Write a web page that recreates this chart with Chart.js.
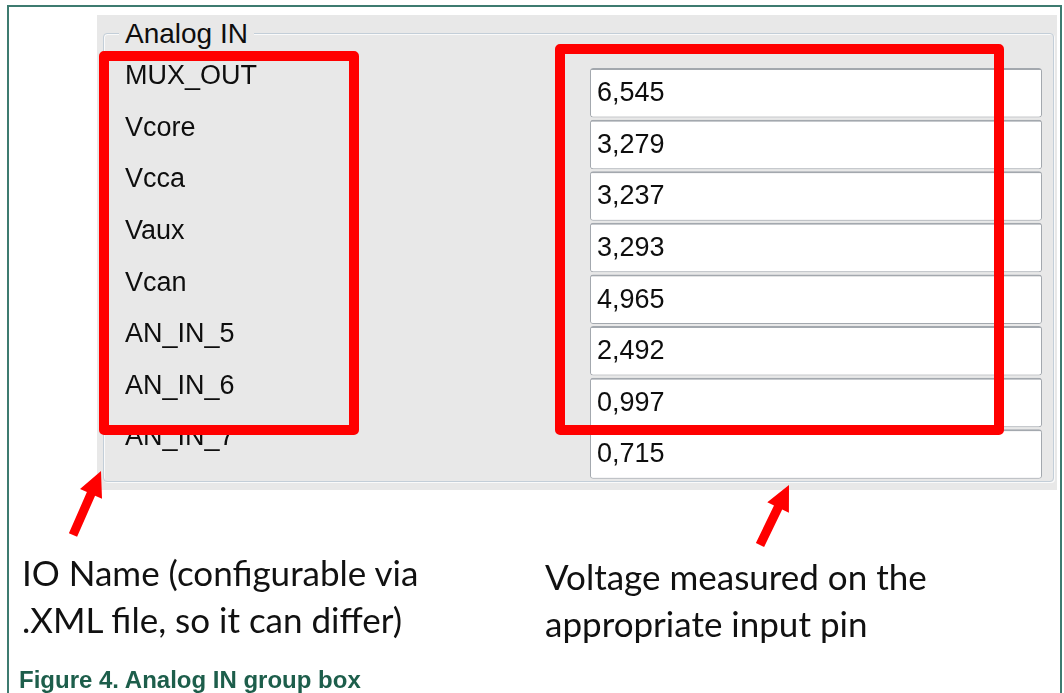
<!DOCTYPE html>
<html>
<head>
<meta charset="utf-8">
<script src="https://cdn.jsdelivr.net/npm/chart.js@4.4.1/dist/chart.umd.min.js"></script>
<style>
  html, body { margin: 0; padding: 0; background: #fff; }
  body { width: 1064px; height: 693px; position: relative; overflow: hidden; font-family: "Liberation Sans", Arial, sans-serif; }
  .frame { position: absolute; left: 7px; top: 5px; width: 1051px; height: 720px; border: 2px solid #3d7b70; }
  .shot  { position: absolute; left: 97px; top: 15px; width: 960px; height: 475px; background: #e8e8e8; }
  .group { position: absolute; left: 103px; top: 33px; width: 949px; height: 447px; border: 1px solid #c3ced8; border-radius: 4px;
           box-shadow: inset 1px 1px 0 #fafafa, 1px 1px 0 #fafafa; }
  .legend { position: absolute; left: 119px; top: 17px; padding: 0 6px; background: #e8e8e8; font-size: 28px; line-height: 34px; color: #0e0e0e; }
  .plot  { position: absolute; left: 103px; top: 40px; width: 950px; height: 459px; }
  .red   { position: absolute; box-sizing: border-box; border: 10px solid #ff0000; border-radius: 5px; }
  .note  { position: absolute; font-family: Lato, "Open Sans", sans-serif; font-size: 35px; line-height: 47px; color: #111; white-space: nowrap; }
  .caption { position: absolute; left: 19px; top: 666px; font-family: "Liberation Sans", Arial, sans-serif; font-weight: bold; font-size: 24px; color: #1d5e4b; }
  svg { position: absolute; left: 0; top: 0; }
</style>
</head>
<body>
<div class="frame"></div>
<div class="shot"></div>
<div class="group"></div>
<div class="legend">Analog IN</div>
<div class="plot"><canvas id="analogChart" width="950" height="459"></canvas></div>

<div class="red" style="left:99px; top:51px; width:260px; height:384px;"></div>
<div class="red" style="left:555px; top:44px; width:449px; height:391px;"></div>

<svg width="1064" height="693">
  <polygon fill="#ff0000" points="68.9,533.2 86.9,492.1 80,489.1 101,471 102,498.7 95.1,495.7 77.1,536.8"/>
  <polygon fill="#ff0000" points="755.9,543 774,505.5 767.3,502.3 789,485 788.9,512.7 782.2,509.5 764.1,547"/>
</svg>

<div class="note" style="left:22px; top:549px;">IO Name (configurable via<br>.XML file, so it can differ)</div>
<div class="note" style="left:545px; top:553px;">Voltage measured on the<br>appropriate input pin</div>
<div class="caption">Figure 4. Analog IN group box</div>

<script>
/* Analog IN group box — IO names on the category axis, read-out fields as bars */

const IO_NAMES   = ['MUX_OUT', 'Vcore', 'Vcca', 'Vaux', 'Vcan', 'AN_IN_5', 'AN_IN_6', 'AN_IN_7'];
const VOLTAGES   = [6.545, 3.279, 3.237, 3.293, 4.965, 2.492, 0.997, 0.715];
const FIELD_FILL = [1, 1, 1, 1, 1, 1, 1, 1];   // every read-out box spans the whole field column

const TEXT_COLOR = '#0e0e0e';
const UI_FONT    = '"Liberation Sans", Arial, sans-serif';

/* decimal comma, as the tool shows it */
const fmtVolt = v => v.toFixed(3).replace('.', ',');

/* writes each voltage inside its read-out box */
const valueText = {
  id: 'valueText',
  afterDatasetsDraw(chart) {
    const { ctx } = chart;
    const meta = chart.getDatasetMeta(0);
    ctx.save();
    ctx.font = `27px ${UI_FONT}`;
    ctx.fillStyle = TEXT_COLOR;
    ctx.textAlign = 'left';
    ctx.textBaseline = 'middle';
    meta.data.forEach((bar, i) => ctx.fillText(fmtVolt(VOLTAGES[i]), bar.base + 7, bar.y + 1));
    ctx.restore();
  },
};

new Chart(document.getElementById('analogChart'), {
  type: 'bar',
  data: {
    labels: IO_NAMES,
    datasets: [{
      label: 'Voltage',
      data: FIELD_FILL,
      backgroundColor: '#ffffff',
      borderColor: '#a3a8ae',
      borderWidth: { top: 2, left: 1, right: 1, bottom: 1 },
      borderSkipped: false,
      borderRadius: 3,
      categoryPercentage: 1,
      barPercentage: 0.96,
    }],
  },
  options: {
    indexAxis: 'y',
    responsive: false,
    animation: false,
    layout: { padding: { left: 22, right: 11, top: 27, bottom: 12 } },
    plugins: { legend: { display: false }, tooltip: { enabled: false } },
    scales: {
      x: { type: 'linear', min: 0, max: 1, display: false },
      y: {
        type: 'category',
        grid: { display: false },
        border: { display: false },
        afterFit: scale => { scale.width = 465; },
        ticks: {
          crossAlign: 'far',
          labelOffset: -16,
          color: TEXT_COLOR,
          font: { family: UI_FONT, size: 27 },
        },
      },
    },
  },
  plugins: [valueText],
});
</script>
</body>
</html>
